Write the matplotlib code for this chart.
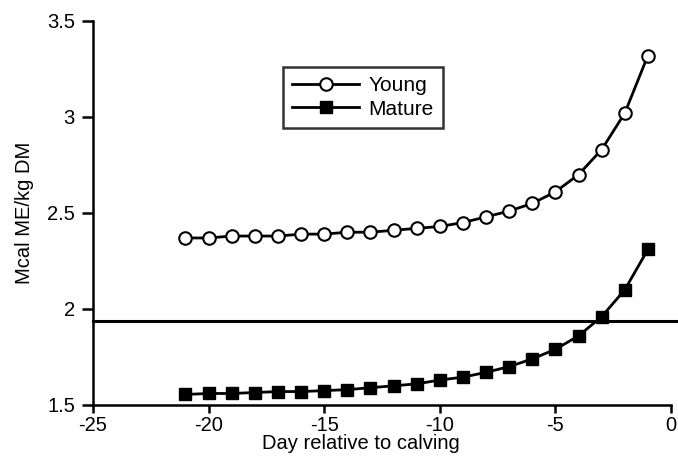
import matplotlib
matplotlib.use("Agg")
import matplotlib.pyplot as plt

days = [-21, -20, -19, -18, -17, -16, -15, -14, -13, -12, -11, -10, -9, -8, -7, -6, -5, -4, -3, -2, -1]
young = [2.37, 2.37, 2.38, 2.38, 2.38, 2.39, 2.39, 2.40, 2.40, 2.41, 2.42, 2.43, 2.45, 2.48, 2.51, 2.55, 2.61, 2.70, 2.83, 3.02, 3.32]
mature = [1.555, 1.56, 1.56, 1.565, 1.57, 1.57, 1.575, 1.58, 1.59, 1.60, 1.61, 1.63, 1.645, 1.67, 1.70, 1.74, 1.79, 1.86, 1.96, 2.10, 2.31]
reference_line = 1.94
xticks = [-25, -20, -15, -10, -5, 0]
yticks = [1.5, 2, 2.5, 3, 3.5]
ytick_labels = ["1.5", "2", "2.5", "3", "3.5"]

plt.rcParams['font.family'] = ['Liberation Sans', 'DejaVu Sans']
plt.rcParams['axes.unicode_minus'] = False

fig = plt.figure(figsize=(6.78, 4.59), dpi=100)
ax = fig.add_axes([93/678, 1-405/459, (671-93)/678, (405-21)/459])

ax.axhline(reference_line, xmin=0, xmax=1.015, color='black', lw=2.2, clip_on=False, zorder=1)
ax.plot(days, young, color='black', lw=2.0, marker='o', markersize=9,
        markerfacecolor='white', markeredgecolor='black', markeredgewidth=1.5, label='Young', zorder=3)
ax.plot(days, mature, color='black', lw=2.0, marker='s', markersize=8.5,
        markerfacecolor='black', markeredgecolor='black', label='Mature', zorder=3)

ax.set_xlim(-25, 0)
ax.set_ylim(1.5, 3.5)
ax.set_xticks(xticks)
ax.set_xticklabels([str(t) for t in xticks])
ax.set_yticks(yticks)
ax.set_yticklabels(ytick_labels)
ax.spines['top'].set_visible(False)
ax.spines['right'].set_visible(False)
ax.spines['left'].set_linewidth(1.8)
ax.spines['bottom'].set_linewidth(1.8)
ax.tick_params(axis='x', direction='out', length=6, width=1.8, labelsize=14.5, pad=2)
ax.tick_params(axis='y', direction='out', length=8, width=1.8, labelsize=14.5, pad=5)
ax.set_xlabel('Day relative to calving', fontsize=14.5, labelpad=1)
ax.xaxis.set_label_coords((361-93)/578, -0.075)
ax.set_ylabel('Mcal ME/kg DM', fontsize=14.5, labelpad=9)

leg = ax.legend(loc='upper left', bbox_to_anchor=((283-93)/578, 1-(67-21)/384),
                frameon=True, fancybox=False, edgecolor='black', fontsize=15,
                handlelength=3.2, borderpad=0.45, labelspacing=0.2, handletextpad=0.45,
                borderaxespad=0)
leg.get_frame().set_linewidth(1.8)

fig.savefig('out.png', dpi=100)
